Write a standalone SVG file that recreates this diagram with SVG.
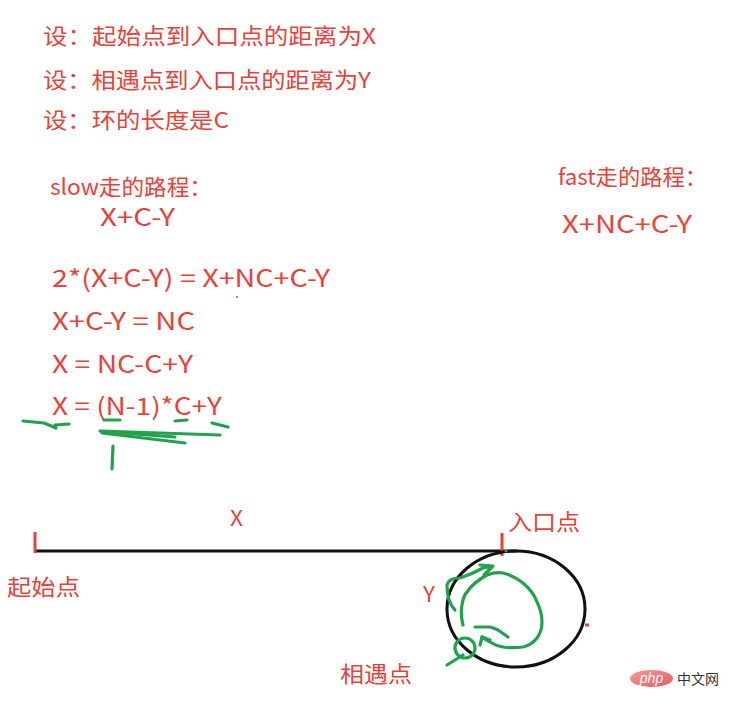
<svg xmlns="http://www.w3.org/2000/svg" width="730" height="710" viewBox="0 0 730 710">
<defs>
<style>
.t{font-family:"Noto Sans CJK SC","Noto Sans",sans-serif;fill:#e8423a;font-size:22px;}
.e{font-size:24px;}
.g{fill:none;stroke:#22a24c;stroke-width:3.2;stroke-linecap:round;stroke-linejoin:round;}
.k{fill:none;stroke:#111;stroke-width:3;}
.r{stroke:#e8423a;stroke-width:3;fill:none;}
</style>
<linearGradient id="wm" x1="0" y1="0" x2="1" y2="1">
<stop offset="0" stop-color="#f49a9a"/>
<stop offset="1" stop-color="#e8585e"/>
</linearGradient>
</defs>
<rect width="730" height="710" fill="#fff"/>

<g id="assumptions">
<text class="t" x="43" y="44" textLength="333" lengthAdjust="spacingAndGlyphs">设：起始点到入口点的距离为X</text>
<text class="t" x="43" y="88" textLength="328" lengthAdjust="spacingAndGlyphs">设：相遇点到入口点的距离为Y</text>
<text class="t" x="43" y="128" textLength="186" lengthAdjust="spacingAndGlyphs">设：环的长度是C</text>
</g>

<g id="slow-path">
<text class="t" x="50" y="195" textLength="162" lengthAdjust="spacingAndGlyphs">slow走的路程：</text>
<text class="t e" x="100" y="226" textLength="75" lengthAdjust="spacingAndGlyphs">X+C-Y</text>
</g>

<g id="fast-path">
<text class="t" x="558" y="185" textLength="149" lengthAdjust="spacingAndGlyphs">fast走的路程：</text>
<text class="t e" x="562" y="233" textLength="130" lengthAdjust="spacingAndGlyphs">X+NC+C-Y</text>
</g>

<g id="equations">
<text class="t e" x="52" y="287" textLength="278" lengthAdjust="spacingAndGlyphs">2*(X+C-Y) = X+NC+C-Y</text>
<text class="t e" x="52" y="330" textLength="143" lengthAdjust="spacingAndGlyphs">X+C-Y = NC</text>
<text class="t e" x="52" y="373" textLength="141" lengthAdjust="spacingAndGlyphs">X = NC-C+Y</text>
<text class="t e" x="52" y="415" textLength="170" lengthAdjust="spacingAndGlyphs">X = (N-1)*C+Y</text>
</g>

<g id="equation-marks">
<path class="g" d="M23,421 L44,423 L56,428 L55,425 L69,424"/>
<path class="g" d="M104,420 L120,420" stroke-width="4"/>
<path class="g" d="M100,431 L220,435"/>
<path class="g" d="M102,433 L185,443"/>
<path class="g" d="M108,432 L175,437"/>
<path class="g" d="M175,421 L187,420"/>
<path class="g" d="M212,423 L228,427"/>
<path class="g" d="M113,446 L112,469"/>
<circle cx="237" cy="297" r="1" fill="#22a24c"/>
</g>

<g id="line-x">
<path class="k" d="M35,551 L517,551"/>
<text class="t" x="230" y="526" font-size="21" textLength="13" lengthAdjust="spacingAndGlyphs">X</text>
</g>

<g id="start-point">
<path class="r" d="M35,532 L35,553"/>
<text class="t" x="7" y="595" textLength="73" lengthAdjust="spacingAndGlyphs">起始点</text>
</g>

<g id="entry-point">
<path class="r" d="M502,533 L502,556"/>
<text class="t" x="508" y="530" textLength="72" lengthAdjust="spacingAndGlyphs">入口点</text>
</g>

<g id="loop">
<ellipse class="k" cx="516" cy="609" rx="69" ry="58"/>
<path class="r" d="M585,625 L589,625" stroke-width="2"/>
<text class="t" x="423" y="602" textLength="12" lengthAdjust="spacingAndGlyphs">Y</text>
</g>

<g id="meet-point">
<circle class="g" cx="465" cy="648" r="10"/>
<path class="g" d="M447,665 L463,655"/>
<text class="t" x="340" y="682" textLength="72" lengthAdjust="spacingAndGlyphs">相遇点</text>
</g>

<g id="green-paths">
<path class="g" d="M455,610 C449,604 447,594 447,585 C448,580 452,578 460,578 C466,576 474,573 483,568 C487,567 490,567 492,567"/>
<path class="g" d="M480,565 L493,566 L484,575"/>
<path class="g" d="M463,625 C461,617 461,610 462,605 C463,598 465,594 467,592 C471,586 478,580 487,575 C492,573 497,572 503,573 C512,575 518,579 523,583 C531,590 535,596 537,602 C541,610 542,616 542,622 C542,630 540,634 537,638 C533,643 528,646 523,647 C515,648 509,648 503,647 C497,646 493,644 490,642 C486,640 484,638 482,637"/>
<path class="g" d="M480,645 L482,637 L490,640"/>
<path class="g" d="M475,627 L490,627 C494,628 496,629 498,630 L508,637"/>
<circle cx="506" cy="551" r="1.5" fill="#22a24c"/>
</g>

<g id="watermark">
<ellipse cx="651.5" cy="678.5" rx="21.5" ry="8.5" fill="url(#wm)"/>
<text x="651.5" y="683" text-anchor="middle" font-family="Liberation Sans, sans-serif" font-style="italic" font-size="14" fill="#fff">php</text>
<text x="677" y="684" font-family="Noto Sans CJK SC, sans-serif" font-size="14" fill="#333" textLength="42" lengthAdjust="spacingAndGlyphs">中文网</text>
</g>
</svg>
